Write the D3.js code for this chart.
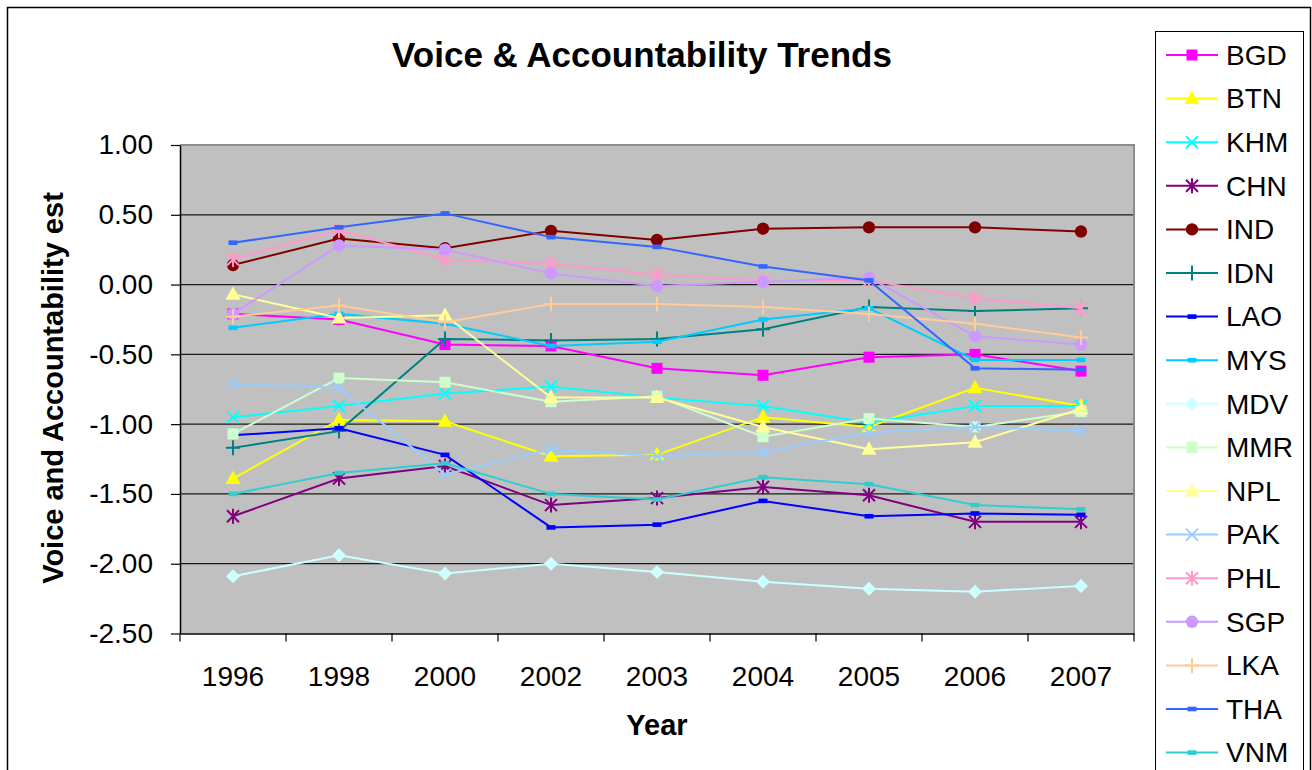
<!DOCTYPE html>
<html>
<head>
<meta charset="utf-8">
<script src="https://cdn.jsdelivr.net/npm/d3@7"></script>
<style>
  html, body { margin: 0; padding: 0; background: #fff; }
  svg { display: block; font-family: "Liberation Sans", Arial, sans-serif; }
</style>
</head>
<body>
<svg id="chart" width="1312" height="770"></svg>
<script>
// Survey years on the category axis
const years = ["1996", "1998", "2000", "2002", "2003", "2004", "2005", "2006", "2007"];

// Voice & Accountability estimates per country
const BGD = [-0.21, -0.25, -0.43, -0.44, -0.60, -0.65, -0.52, -0.50, -0.62];
const BTN = [-1.39, -0.97, -0.98, -1.23, -1.22, -0.95, -1.02, -0.74, -0.87];
const KHM = [-0.95, -0.87, -0.78, -0.73, -0.81, -0.87, -0.99, -0.87, -0.87];
const CHN = [-1.66, -1.39, -1.30, -1.58, -1.53, -1.45, -1.51, -1.70, -1.70];
const IND = [0.14, 0.33, 0.26, 0.385, 0.32, 0.40, 0.41, 0.41, 0.38];
const IDN = [-1.17, -1.05, -0.39, -0.40, -0.39, -0.32, -0.16, -0.19, -0.17];
const LAO = [-1.08, -1.03, -1.22, -1.74, -1.72, -1.55, -1.66, -1.64, -1.65];
const MYS = [-0.31, -0.21, -0.28, -0.44, -0.41, -0.25, -0.17, -0.54, -0.54];
const MDV = [-2.09, -1.94, -2.07, -2.00, -2.06, -2.13, -2.18, -2.20, -2.16];
const MMR = [-1.07, -0.67, -0.70, -0.84, -0.80, -1.09, -0.96, -1.02, -0.91];
const NPL = [-0.07, -0.24, -0.22, -0.81, -0.81, -1.02, -1.18, -1.13, -0.89];
const PAK = [-0.71, -0.74, -1.36, -1.18, -1.23, -1.20, -1.06, -1.02, -1.05];
const PHL = [0.18, 0.39, 0.18, 0.15, 0.07, 0.03, 0.03, -0.10, -0.17];
const SGP = [-0.21, 0.28, 0.25, 0.08, -0.01, 0.02, 0.05, -0.37, -0.43];
const LKA = [-0.23, -0.15, -0.27, -0.14, -0.14, -0.16, -0.21, -0.28, -0.38];
const THA = [0.30, 0.41, 0.51, 0.34, 0.27, 0.13, 0.03, -0.60, -0.61];
const VNM = [-1.50, -1.35, -1.28, -1.50, -1.54, -1.38, -1.43, -1.58, -1.61];

const seriesNames = ["BGD", "BTN", "KHM", "CHN", "IND", "IDN", "LAO", "MYS", "MDV",
                     "MMR", "NPL", "PAK", "PHL", "SGP", "LKA", "THA", "VNM"];
const seriesValues = [BGD, BTN, KHM, CHN, IND, IDN, LAO, MYS, MDV,
                      MMR, NPL, PAK, PHL, SGP, LKA, THA, VNM];

// Value axis ticks
const yTicks = [1.0, 0.5, 0.0, -0.5, -1.0, -1.5, -2.0, -2.5];

// Line colour and marker shape for each series
const seriesStyle = {
  BGD: { color: "#FF00FF", marker: "square" },
  BTN: { color: "#FFFF00", marker: "triangle" },
  KHM: { color: "#00FFFF", marker: "x" },
  CHN: { color: "#800080", marker: "asterisk" },
  IND: { color: "#800000", marker: "circle" },
  IDN: { color: "#008080", marker: "plus" },
  LAO: { color: "#0000FF", marker: "dash" },
  MYS: { color: "#00CCFF", marker: "dash" },
  MDV: { color: "#CCFFFF", marker: "diamond" },
  MMR: { color: "#CCFFCC", marker: "square" },
  NPL: { color: "#FFFF99", marker: "triangle" },
  PAK: { color: "#99CCFF", marker: "x" },
  PHL: { color: "#FF99CC", marker: "asterisk" },
  SGP: { color: "#CC99FF", marker: "circle" },
  LKA: { color: "#FFCC99", marker: "plus" },
  THA: { color: "#3366FF", marker: "dash" },
  VNM: { color: "#33CCCC", marker: "dash" }
};

const svg = d3.select("#chart");

// Chart area frame
svg.append("rect")
  .attr("x", 7.5).attr("y", 7.5)
  .attr("width", 1303).attr("height", 790)
  .attr("fill", "#fff").attr("stroke", "#000").attr("stroke-width", 1.5);

const plot = { left: 180, right: 1134, top: 145, bottom: 633.5 };

const x = d3.scaleBand().domain(years).range([plot.left, plot.right]);
const y = d3.scaleLinear().domain([-2.5, 1]).range([plot.bottom, plot.top]);

// Plot background
svg.append("rect")
  .attr("x", plot.left).attr("y", plot.top)
  .attr("width", plot.right - plot.left).attr("height", plot.bottom - plot.top)
  .attr("fill", "#C0C0C0");

// Horizontal gridlines
svg.append("g")
  .selectAll("line")
  .data(yTicks.filter(t => t > -2.5 && t < 1))
  .join("line")
  .attr("x1", plot.left).attr("x2", plot.right)
  .attr("y1", d => y(d)).attr("y2", d => y(d))
  .attr("stroke", "#1a1a1a").attr("stroke-width", 1.2);

// Plot frame (top and right edges)
svg.append("path")
  .attr("d", `M${plot.left},${plot.top}H${plot.right}V${plot.bottom}`)
  .attr("fill", "none").attr("stroke", "#8c8c8c").attr("stroke-width", 2);

// Y axis
const fmt = d => d.toFixed(2);
const yAxis = svg.append("g")
  .attr("transform", `translate(${plot.left},0)`)
  .call(d3.axisLeft(y).tickValues(yTicks).tickFormat(fmt).tickSize(9).tickPadding(18).tickSizeOuter(0));
yAxis.select(".domain").attr("stroke", "#000").attr("stroke-width", 1.5);
yAxis.selectAll(".tick line").attr("stroke", "#000").attr("stroke-width", 1.2);
yAxis.selectAll(".tick text")
  .attr("font-size", 28).attr("fill", "#000")
  .attr("font-family", "'Liberation Sans', Arial, sans-serif");

// X axis: labels centred in each category, ticks on category boundaries
const xAxis = svg.append("g")
  .attr("transform", `translate(0,${plot.bottom})`)
  .call(d3.axisBottom(x).tickSize(0).tickPadding(0).tickSizeOuter(0));
xAxis.select(".domain").attr("stroke", "#000").attr("stroke-width", 1.5);
xAxis.selectAll(".tick text")
  .attr("font-size", 28).attr("fill", "#000")
  .attr("font-family", "'Liberation Sans', Arial, sans-serif")
  .attr("y", 52).attr("dy", 0);
xAxis.selectAll(".boundary")
  .data(d3.range(years.length + 1))
  .join("line")
  .attr("class", "boundary")
  .attr("x1", i => plot.left + i * x.step()).attr("x2", i => plot.left + i * x.step())
  .attr("y1", 0).attr("y2", 8)
  .attr("stroke", "#000").attr("stroke-width", 1.2);

// Marker shapes centred on (0,0)
function markerPath(type) {
  switch (type) {
    case "square":   return "M-5.5,-5.5H5.5V5.5H-5.5Z";
    case "triangle": return "M0,-8L7.5,5.5H-7.5Z";
    case "x":        return "M-6,-6L6,6M-6,6L6,-6";
    case "asterisk": return "M-6,-6L6,6M-6,6L6,-6M0,-7.5V7.5";
    case "circle":   return d3.symbol(d3.symbolCircle, 120)();
    case "plus":     return "M-7,0H7M0,-7.5V7.5";
    case "dash":     return "M-4.5,-2.3H4.5V2.3H-4.5Z";
    case "diamond":  return "M0,-7L7,0L0,7L-7,0Z";
  }
}
const strokedMarkers = new Set(["x", "asterisk", "plus"]);

function drawMarker(sel, style) {
  const stroked = strokedMarkers.has(style.marker);
  sel.attr("d", markerPath(style.marker))
    .attr("fill", stroked ? "none" : style.color)
    .attr("stroke", stroked ? style.color : "none")
    .attr("stroke-width", stroked ? 2 : 0);
}

const line = d3.line()
  .x((d, i) => x(years[i]) + x.bandwidth() / 2)
  .y(d => y(d));

// Series lines and markers, drawn in legend order
const series = svg.append("g")
  .selectAll("g")
  .data(seriesNames.map((name, i) => ({ name, values: seriesValues[i] })))
  .join("g");

series.each(function (s) {
  const g = d3.select(this);
  const style = seriesStyle[s.name];
  g.append("path")
    .attr("d", line(s.values))
    .attr("fill", "none")
    .attr("stroke", style.color)
    .attr("stroke-width", 2);
  g.selectAll("path.marker")
    .data(s.values)
    .join("path")
    .attr("class", "marker")
    .attr("transform", (d, i) => `translate(${x(years[i]) + x.bandwidth() / 2},${y(d)})`)
    .call(drawMarker, style);
});

// Title
svg.append("text")
  .attr("x", 642).attr("y", 67)
  .attr("text-anchor", "middle")
  .attr("font-size", 35).attr("font-weight", "bold")
  .text("Voice & Accountability Trends");

// Axis titles
svg.append("text")
  .attr("transform", "translate(63,388) rotate(-90)")
  .attr("text-anchor", "middle")
  .attr("font-size", 29).attr("font-weight", "bold")
  .text("Voice and Accountability est");

svg.append("text")
  .attr("x", 657).attr("y", 735)
  .attr("text-anchor", "middle")
  .attr("font-size", 29).attr("font-weight", "bold")
  .text("Year");

// Legend
const legend = svg.append("g");
legend.append("rect")
  .attr("x", 1155.5).attr("y", 31.5)
  .attr("width", 148).attr("height", 760)
  .attr("fill", "#fff").attr("stroke", "#000").attr("stroke-width", 1);

const rowH = 43.6;
const items = legend.selectAll("g.item")
  .data(seriesNames)
  .join("g")
  .attr("class", "item")
  .attr("transform", (d, i) => `translate(0,${55 + i * rowH})`);

items.append("line")
  .attr("x1", 1166).attr("x2", 1218)
  .attr("y1", 0).attr("y2", 0)
  .attr("stroke", d => seriesStyle[d].color)
  .attr("stroke-width", 2);

items.append("path")
  .attr("transform", "translate(1192,0)")
  .each(function (d) { d3.select(this).call(drawMarker, seriesStyle[d]); });

items.append("text")
  .attr("x", 1226).attr("y", 0).attr("dy", "0.35em")
  .attr("font-size", 28)
  .text(d => d);
</script>
</body>
</html>
